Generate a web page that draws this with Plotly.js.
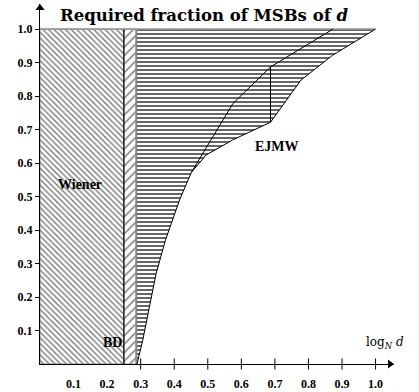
<!DOCTYPE html>
<html>
<head>
<meta charset="utf-8">
<script src="https://cdn.plot.ly/plotly-3.0.1.min.js"></script>
<style>html,body{margin:0;padding:0;background:#fff;}#chart{width:419px;height:392px;}</style>
</head>
<body>
<div id="chart"></div>
<script>
// ---- data ----
var wienerBound = 0.25;      // Wiener bound on log_N d
var bdBound = 0.287;         // Boneh-Durfee bound
var lowerX = [0.289, 0.306, 0.326, 0.346, 0.374, 0.416, 0.451];
var lowerY = [0.0, 0.07, 0.17, 0.27, 0.37, 0.49, 0.572];
var outerX = [0.451, 0.495, 0.574, 0.687, 0.778, 0.872, 1.0];
var outerY = [0.572, 0.624, 0.669, 0.722, 0.848, 0.922, 1.0];
var innerX = [0.451, 0.575, 0.687, 0.873];
var innerY = [0.572, 0.778, 0.887, 1.0];
var stepX = [0.687, 0.687];
var stepY = [0.722, 0.887];
var xTicks = [0.1, 0.2, 0.3, 0.4, 0.5, 0.6, 0.7, 0.8, 0.9, 1.0];
var xTickText = ['0.1','0.2','0.3','0.4','0.5','0.6','0.7','0.8','0.9','1.0'];
var xTickMarks = [0.3, 0.4, 0.5, 0.6, 0.7, 0.8, 0.9, 1.0];
var yTicks = [0.1, 0.2, 0.3, 0.4, 0.5, 0.6, 0.7, 0.8, 0.9, 1.0];
var yTickText = ['0.1','0.2','0.3','0.4','0.5','0.6','0.7','0.8','0.9','1.0'];
var yMax = 1.0;
var xEnd = 1.055, yEnd = 1.075;

var serif = 'Liberation Serif, serif';
var traces = [];

// Wiener region
traces.push({
  x: [0, wienerBound, wienerBound, 0, 0], y: [0, 0, yMax, yMax, 0],
  mode: 'lines', fill: 'toself', line: {color: '#888', width: 1},
  fillcolor: 'rgba(0,0,0,0)',
  fillpattern: {shape: '\\', fgcolor: '#7a7a7a', bgcolor: '#fff', size: 4, solidity: 0.35},
  hoverinfo: 'skip', showlegend: false
});
// BD region
traces.push({
  x: [wienerBound, bdBound, bdBound, wienerBound, wienerBound], y: [0, 0, yMax, yMax, 0],
  mode: 'lines', fill: 'toself', line: {color: '#999', width: 1},
  fillcolor: 'rgba(0,0,0,0)',
  fillpattern: {shape: '/', fgcolor: '#7a7a7a', bgcolor: '#fff', size: 6, solidity: 0.25},
  hoverinfo: 'skip', showlegend: false
});
// Horizontally hatched region
var polyX = [bdBound].concat(lowerX, outerX.slice(1), [bdBound, bdBound]);
var polyY = [0].concat(lowerY, outerY.slice(1), [yMax, 0]);
traces.push({
  x: polyX, y: polyY, mode: 'lines', fill: 'toself',
  line: {color: 'rgba(0,0,0,0)', width: 0},
  fillcolor: 'rgba(0,0,0,0)',
  fillpattern: {shape: '-', fgcolor: '#222', bgcolor: '#fff', size: 4, solidity: 0.35},
  hoverinfo: 'skip', showlegend: false
});
// boundary lines
function line(xs, ys, color, w) {
  return {x: xs, y: ys, mode: 'lines', line: {color: color, width: w}, hoverinfo: 'skip', showlegend: false};
}
traces.push(line([bdBound, bdBound], [0, yMax], '#888', 2));
traces.push(line([wienerBound, wienerBound], [0, yMax], '#000', 1.2));
traces.push(line([0, outerX[outerX.length-1]], [yMax, yMax], '#999', 1.5));
traces.push(line(lowerX, lowerY, '#000', 1));
traces.push(line(outerX, outerY, '#000', 1));
traces.push(line(innerX, innerY, '#000', 1));
traces.push(line(stepX, stepY, '#000', 1));
// x tick marks crossing the axis
traces.push({
  x: xTickMarks, y: xTickMarks.map(function(){return 0;}), mode: 'markers',
  marker: {symbol: 'line-ns', size: 8, line: {color: '#000', width: 1}},
  cliponaxis: false, hoverinfo: 'skip', showlegend: false
});
// axis arrow heads
traces.push({
  x: [xEnd - 0.012], y: [0], mode: 'markers',
  marker: {symbol: 'triangle-right', size: 8, color: '#000'},
  cliponaxis: false, hoverinfo: 'skip', showlegend: false
});
traces.push({
  x: [0], y: [yEnd - 0.012], mode: 'markers',
  marker: {symbol: 'triangle-up', size: 8, color: '#000'},
  cliponaxis: false, hoverinfo: 'skip', showlegend: false
});

var layout = {
  width: 419, height: 392,
  margin: {l: 40, r: 25, t: 4, b: 28},
  paper_bgcolor: '#fff', plot_bgcolor: '#fff',
  xaxis: {
    range: [0, xEnd], showgrid: false, zeroline: false,
    showline: true, linecolor: '#000', linewidth: 1,
    tickvals: xTicks, ticktext: xTickText.map(function(t){return '<b>'+t+'</b>';}),
    ticks: '', ticklabelstandoff: 9,
    tickfont: {family: serif, size: 12, color: '#000'}, fixedrange: true
  },
  yaxis: {
    range: [0, yEnd], showgrid: false, zeroline: false,
    showline: true, linecolor: '#000', linewidth: 1,
    tickvals: yTicks, ticktext: yTickText.map(function(t){return '<b>'+t+'</b>';}),
    ticks: 'outside', ticklen: 4, tickcolor: '#000',
    tickfont: {family: serif, size: 12, color: '#000'}, fixedrange: true
  },
  annotations: [
    {x: 0.49, y: 1.042, xref: 'x', yref: 'y', showarrow: false,
     text: '<b>Required fraction of MSBs of <i>d</i></b>',
     font: {family: 'DejaVu Serif, serif', size: 16.5, color: '#000'}},
    {x: 0.12, y: 0.535, xref: 'x', yref: 'y', showarrow: false, text: '<b>Wiener</b>',
     font: {family: serif, size: 14, color: '#000'}},
    {x: 0.216, y: 0.063, xref: 'x', yref: 'y', showarrow: false, text: '<b>BD</b>',
     font: {family: serif, size: 14, color: '#000'}},
    {x: 0.705, y: 0.65, xref: 'x', yref: 'y', showarrow: false, text: '<b>EJMW</b>',
     font: {family: serif, size: 14, color: '#000'}},
    {x: 1.027, y: 0.062, xref: 'x', yref: 'y', showarrow: false,
     text: 'log<sub><i>N</i></sub> <i>d</i>',
     font: {family: 'DejaVu Serif, serif', size: 12, color: '#000'}}
  ]
};

Plotly.newPlot('chart', traces, layout, {displayModeBar: false, staticPlot: true});
</script>
</body>
</html>
